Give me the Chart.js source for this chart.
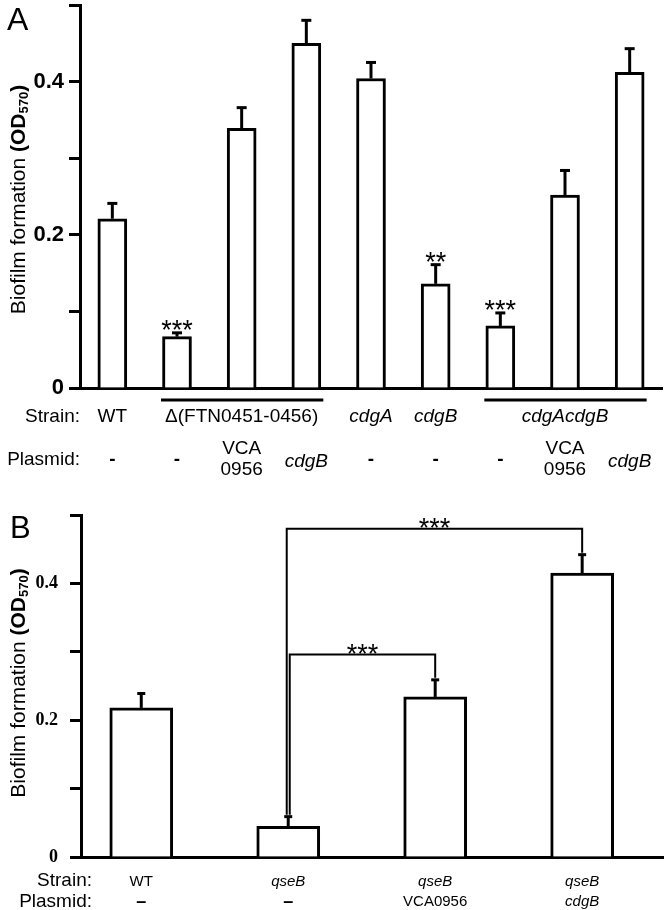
<!DOCTYPE html>
<html><head><meta charset="utf-8">
<script src="https://cdn.jsdelivr.net/npm/chart.js@4.4.1/dist/chart.umd.min.js"></script>
<style>
html,body{margin:0;padding:0;background:#fff;}
#wrapA{position:absolute;left:0;top:0;width:666px;height:505px;}
#wrapB{position:absolute;left:0;top:505px;width:666px;height:405px;}
canvas{display:block;}
</style></head><body>
<div id="wrapA"><canvas id="cA" width="666" height="505"></canvas></div>
<div id="wrapB"><canvas id="cB" width="666" height="405"></canvas></div>
<script>
// ---------- Panel A data ----------
const categoriesA = ['WT', 'Δ(FTN0451-0456)', 'Δ(FTN0451-0456) + VCA0956', 'Δ(FTN0451-0456) + cdgB', 'cdgA', 'cdgB', 'cdgAcdgB', 'cdgAcdgB + VCA0956', 'cdgAcdgB + cdgB'];
const valuesA = [0.221, 0.067, 0.339, 0.450, 0.404, 0.136, 0.081, 0.252, 0.412];
const errorsA = [0.020, 0.005, 0.027, 0.030, 0.021, 0.025, 0.017, 0.032, 0.031];
const signifA = ['', '***', '', '', '', '**', '***', '', ''];
const strainGroupsA = [['WT', 0, 0], ['Δ(FTN0451-0456)', 1, 3], ['cdgA', 4, 4], ['cdgB', 5, 5], ['cdgAcdgB', 6, 8]];
const plasmidA = ['-', '-', 'VCA\n0956', 'cdgB', '-', '-', '-', 'VCA\n0956', 'cdgB'];
const yTickLabelsA = ['0', '0.2', '0.4'];

// ---------- Panel B data ----------
const categoriesB = ['WT', 'qseB', 'qseB + VCA0956', 'qseB + cdgB'];
const valuesB = [0.218, 0.045, 0.234, 0.415];
const errorsB = [0.021, 0.014, 0.025, 0.027];
const strainB = ['WT', 'qseB', 'qseB', 'qseB'];
const plasmidB = ['–', '–', 'VCA0956', 'cdgB'];
const bracketsB = [[1, 3, 0.48, '***'], [1, 2, 0.296, '***']];
const yTickLabelsB = ['0', '0.2', '0.4'];

const SANS = '"Liberation Sans", Arial, Helvetica, sans-serif';
const SERIF = '"Liberation Serif", "Times New Roman", serif';
Chart.defaults.font.family = SANS;
Chart.defaults.color = '#000';

const isGene = s => /^(cdg|qse)/.test(s);

function line(ctx, x1, y1, x2, y2) { ctx.beginPath(); ctx.moveTo(x1, y1); ctx.lineTo(x2, y2); ctx.stroke(); }
function drawRich(ctx, parts, x, y) {
  let w = 0;
  parts.forEach(p => { ctx.font = p.font; w += ctx.measureText(p.t).width; });
  let cx = x - w / 2;
  ctx.textAlign = 'left';
  parts.forEach(p => { ctx.font = p.font; ctx.fillText(p.t, cx, y + (p.dy || 0)); cx += ctx.measureText(p.t).width; });
}
function yTitle(ctx, cx, cy) {
  ctx.save();
  ctx.translate(cx, cy);
  ctx.rotate(-Math.PI / 2);
  ctx.fillStyle = '#000';
  ctx.textBaseline = 'middle';
  drawRich(ctx, [
    { t: 'Biofilm formation ', font: '21px ' + SANS },
    { t: '(OD', font: 'bold 21px ' + SANS },
    { t: '570', font: 'bold 13px ' + SANS, dy: 5 },
    { t: ')', font: 'bold 21px ' + SANS }
  ], 0, 0);
  ctx.restore();
}
function errorBars(ctx, x, y, values, errors, xs, cap) {
  ctx.strokeStyle = '#000'; ctx.lineWidth = 3; ctx.lineCap = 'butt';
  values.forEach((v, i) => {
    const cx = x.getPixelForValue(xs(i));
    const y0 = y.getPixelForValue(v), y1 = y.getPixelForValue(v + errors[i]);
    line(ctx, cx, y0, cx, y1);
    line(ctx, cx - cap, y1, cx + cap, y1);
  });
}

const panelAPlugin = {
  id: 'panelA',
  afterDatasetsDraw(chart) {
    const { ctx, chartArea: ca, scales: { x, y } } = chart;
    ctx.save();
    ctx.fillStyle = '#000';
    errorBars(ctx, x, y, valuesA, errorsA, i => i, 5);
    // significance stars
    ctx.font = '27px ' + SANS; ctx.textAlign = 'center'; ctx.textBaseline = 'alphabetic';
    signifA.forEach((s, i) => {
      if (!s) return;
      ctx.fillText(s, x.getPixelForValue(i), y.getPixelForValue(valuesA[i] + errorsA[i]) + 6);
    });
    // strain row
    const rowS = ca.bottom + 29, rowP = ca.bottom + 72;
    ctx.textBaseline = 'middle';
    ctx.font = '19px ' + SANS; ctx.textAlign = 'right';
    ctx.fillText('Strain:', ca.left, rowS);
    ctx.fillText('Plasmid:', ca.left, rowP);
    ctx.textAlign = 'center';
    strainGroupsA.forEach(([t, a, b]) => {
      const xa = x.getPixelForValue(a), xb = x.getPixelForValue(b);
      ctx.font = (isGene(t) ? 'italic ' : '') + '19px ' + SANS;
      ctx.fillText(t, (xa + xb) / 2, rowS);
      if (b > a) { ctx.lineWidth = 3; line(ctx, xa - 16, ca.bottom + 12, xb + 17, ca.bottom + 12); }
    });
    plasmidA.forEach((t, i) => {
      const cx = x.getPixelForValue(i);
      if (t.includes('\n')) {
        ctx.font = '19px ' + SANS;
        const [l1, l2] = t.split('\n');
        ctx.fillText(l1, cx, rowP - 11);
        ctx.fillText(l2, cx, rowP + 10);
      } else if (t === '-') {
        ctx.font = 'bold 19px ' + SANS; ctx.fillText(t, cx, rowP);
      } else {
        ctx.font = (isGene(t) ? 'italic ' : '') + '19px ' + SANS; ctx.fillText(t, cx, rowP + 2);
      }
    });
    // panel letter & title
    ctx.textAlign = 'left'; ctx.textBaseline = 'alphabetic';
    ctx.font = '32px ' + SANS; ctx.fillText('A', 7, 30);
    yTitle(ctx, 19, (ca.top + ca.bottom) / 2 + 3);
    ctx.restore();
  }
};

const panelBPlugin = {
  id: 'panelB',
  afterDatasetsDraw(chart) {
    const { ctx, chartArea: ca, scales: { x, y } } = chart;
    ctx.save();
    ctx.fillStyle = '#000';
    errorBars(ctx, x, y, valuesB, errorsB, i => i, 4);
    // brackets
    ctx.lineWidth = 2;
    const n = bracketsB.length;
    bracketsB.forEach(([a, b, lvl, s], k) => {
      const xa = x.getPixelForValue(a) + (k - (n - 1) / 2) * 3;
      const xb = x.getPixelForValue(b);
      const yl = y.getPixelForValue(lvl);
      const ya = y.getPixelForValue(valuesB[a] + errorsB[a]) - 2;
      const yb = y.getPixelForValue(valuesB[b] + errorsB[b]) - 2;
      ctx.beginPath(); ctx.moveTo(xa, ya); ctx.lineTo(xa, yl); ctx.lineTo(xb, yl); ctx.lineTo(xb, yb); ctx.stroke();
      ctx.font = '27px ' + SANS; ctx.textAlign = 'center'; ctx.textBaseline = 'alphabetic';
      ctx.fillText(s, (xa + xb) / 2, yl + 8);
    });
    // label rows
    const rowS = ca.bottom + 24, rowP = ca.bottom + 45;
    ctx.textBaseline = 'middle';
    ctx.font = '19px ' + SANS; ctx.textAlign = 'right';
    ctx.fillText('Strain:', 92, rowS);
    ctx.fillText('Plasmid:', 92, rowP);
    ctx.textAlign = 'center';
    strainB.forEach((t, i) => {
      ctx.font = (isGene(t) ? 'italic ' : '') + '15px ' + SANS;
      ctx.fillText(t, x.getPixelForValue(i), rowS + 1);
    });
    plasmidB.forEach((t, i) => {
      ctx.font = t === '–' ? 'bold 18px ' + SANS : (isGene(t) ? 'italic ' : '') + '15px ' + SANS;
      ctx.fillText(t, x.getPixelForValue(i), rowP);
    });
    ctx.textAlign = 'left'; ctx.textBaseline = 'alphabetic';
    ctx.font = '31px ' + SANS; ctx.fillText('B', 10, 33);
    yTitle(ctx, 19, (ca.top + ca.bottom) / 2 - 3);
    ctx.restore();
  }
};

function yScale(labels, font, padding, width) {
  return {
    min: 0, max: 0.5,
    ticks: {
      stepSize: 0.1, autoSkip: false, padding: padding, color: '#000', font: font,
      callback: v => { const s = String(Math.round(v * 10) / 10); return labels.includes(s) ? s : ''; }
    },
    grid: { drawOnChartArea: false, drawTicks: true, tickLength: 11, tickWidth: 3, tickColor: '#000' },
    border: { display: true, width: 3, color: '#000' },
    afterFit(s) { s.width = width; s.paddingTop = 0; s.paddingBottom = 0; }
  };
}

new Chart(document.getElementById('cA'), {
  type: 'bar',
  data: {
    labels: categoriesA,
    datasets: [{ data: valuesA, backgroundColor: '#fff', borderColor: '#000', borderWidth: 3, barThickness: 29 }]
  },
  options: {
    responsive: false, animation: false, devicePixelRatio: 1,
    layout: { padding: { top: 5, right: 4, left: 0, bottom: 0 } },
    plugins: { legend: { display: false }, tooltip: { enabled: false } },
    scales: {
      x: {
        type: 'category', offset: true,
        ticks: { display: false }, grid: { display: false },
        border: { display: true, width: 3, color: '#000' },
        afterFit(s) { s.height = 117; s.paddingLeft = 0; s.paddingRight = 0; }
      },
      y: yScale(yTickLabelsA, { family: SANS, size: 22, weight: 'bold' }, 5, 80)
    }
  },
  plugins: [panelAPlugin]
});

new Chart(document.getElementById('cB'), {
  type: 'bar',
  data: {
    labels: categoriesB,
    datasets: [{ data: valuesB.map((v, i) => ({ x: i, y: v })), backgroundColor: '#fff', borderColor: '#000', borderWidth: 3, barThickness: 63 }]
  },
  options: {
    responsive: false, animation: false, devicePixelRatio: 1,
    layout: { padding: { top: 10, right: 3, left: 0, bottom: 0 } },
    plugins: { legend: { display: false }, tooltip: { enabled: false } },
    scales: {
      x: {
        type: 'linear', offset: false, min: -0.41, max: 3.55,
        ticks: { display: false }, grid: { display: false },
        border: { display: true, width: 3, color: '#000' },
        afterFit(s) { s.height = 53; s.paddingLeft = 0; s.paddingRight = 0; }
      },
      y: yScale(yTickLabelsB, { family: SERIF, size: 18, weight: 'bold' }, 12, 81)
    }
  },
  plugins: [panelBPlugin]
});
</script>
</body></html>
